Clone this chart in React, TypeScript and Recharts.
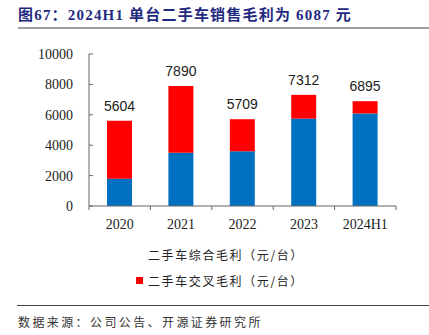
import { Bar, BarChart, LabelList, XAxis, YAxis } from 'recharts';

const years = ['2020', '2021', '2022', '2023', '2024H1'];
const totalProfit = [5604, 7890, 5709, 7312, 6895];
const salesProfit = [1800, 3500, 3600, 5750, 6087];
const yTicks = [0, 2000, 4000, 6000, 8000, 10000];

const data = years.map((year, i) => ({
    year,
    sales: salesProfit[i],
    cross: totalProfit[i] - salesProfit[i],
    total: totalProfit[i],
}));

const axisColor = '#666';
const cjk = '"Noto Sans CJK SC", sans-serif';

function XTick(props: any) {
    const { x, y, payload, index } = props;
    const half = payload.offset ?? 30.7;
    return (
        <g>
            <line x1={x + half} y1={y} x2={x + half} y2={y + 4} stroke={axisColor} />
            {index === 0 && <line x1={x - half} y1={y} x2={x - half} y2={y + 4} stroke={axisColor} />}
            <text
                x={x}
                y={y + 23}
                textAnchor="middle"
                fontFamily='"Liberation Serif", serif'
                fontSize={14}
                fill="#222"
            >
                {payload.value}
            </text>
        </g>
    );
}

function YTick(props: any) {
    const { x, y, payload } = props;
    return (
        <g>
            <line x1={x} y1={y} x2={x + 4} y2={y} stroke={axisColor} />
            <text
                x={x - 16}
                y={y + 5}
                textAnchor="end"
                fontFamily='"Liberation Serif", serif'
                fontSize={14}
                fill="#222"
            >
                {payload.value}
            </text>
        </g>
    );
}

export default function App() {
    return (
        <div
            style={{
                position: 'absolute',
                left: 0,
                top: 0,
                width: 429,
                height: 335,
                background: '#fff',
                overflow: 'hidden',
            }}
        >
            <div
                style={{
                    position: 'absolute',
                    left: 18,
                    top: 5,
                    lineHeight: '20px',
                    fontSize: 15,
                    fontWeight: 'bold',
                    letterSpacing: 1.2,
                    color: '#1f2a80',
                    fontFamily: '"Liberation Serif", "Noto Sans CJK SC", serif',
                    whiteSpace: 'nowrap',
                }}
            >
                图67：2024H1 单台二手车销售毛利为 6087 元
            </div>
            <div style={{ position: 'absolute', left: 18, top: 27, width: 411, height: 2, background: '#a0a0a0' }} />

            <div style={{ position: 'absolute', left: 0, top: 0 }}>
                <BarChart width={429} height={240} data={data} margin={{ top: 54, right: 33, left: 0, bottom: 0 }}>
                    <XAxis
                        dataKey="year"
                        height={34}
                        interval={0}
                        tickSize={0}
                        tickMargin={0}
                        tickLine={false}
                        axisLine={{ stroke: axisColor }}
                        tick={<XTick />}
                    />
                    <YAxis
                        width={89}
                        domain={[0, 10000]}
                        ticks={yTicks}
                        interval={0}
                        tickSize={0}
                        tickMargin={0}
                        tickLine={false}
                        axisLine={{ stroke: axisColor }}
                        tick={<YTick />}
                    />
                    <Bar dataKey="sales" stackId="a" fill="#0070c0" barSize={25} isAnimationActive={false} />
                    <Bar dataKey="cross" stackId="a" fill="#ff0000" barSize={25} isAnimationActive={false}>
                        <LabelList
                            dataKey="total"
                            position="top"
                            offset={10}
                            fontFamily='"Liberation Sans", Arial, sans-serif'
                            fontSize={14}
                            fill="#222"
                        />
                    </Bar>
                </BarChart>
            </div>

            <div
                style={{
                    position: 'absolute',
                    left: 148,
                    top: 247,
                    lineHeight: '16px',
                    fontSize: 12,
                    letterSpacing: 1.6,
                    color: '#222',
                    fontFamily: cjk,
                    whiteSpace: 'nowrap',
                }}
            >
                二手车综合毛利（元/台）
            </div>
            <div style={{ position: 'absolute', left: 136, top: 277, width: 7, height: 7, background: '#ff0000' }} />
            <div
                style={{
                    position: 'absolute',
                    left: 148,
                    top: 273,
                    lineHeight: '16px',
                    fontSize: 12,
                    letterSpacing: 1.6,
                    color: '#222',
                    fontFamily: cjk,
                    whiteSpace: 'nowrap',
                }}
            >
                二手车交叉毛利（元/台）
            </div>

            <div style={{ position: 'absolute', left: 17, top: 305, width: 412, height: 1, background: '#444' }} />
            <div
                style={{
                    position: 'absolute',
                    left: 18,
                    top: 314,
                    lineHeight: '16px',
                    fontSize: 12,
                    letterSpacing: 2.4,
                    color: '#333',
                    fontFamily: cjk,
                    whiteSpace: 'nowrap',
                }}
            >
                数据来源：公司公告、开源证券研究所
            </div>
        </div>
    );
}
